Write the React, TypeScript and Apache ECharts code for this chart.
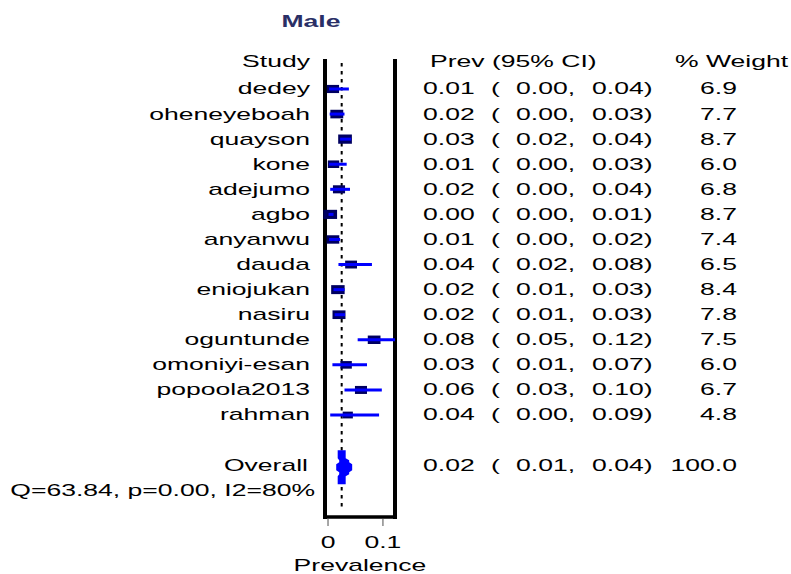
import React, { useEffect, useRef } from "react";
import * as echarts from "echarts";

// ---------- data ----------
const studies = [
  "dedey", "oheneyeboah", "quayson", "kone", "adejumo", "agbo", "anyanwu",
  "dauda", "eniojukan", "nasiru", "oguntunde", "omoniyi-esan", "popoola2013", "rahman",
];
const prev = [0.009, 0.016, 0.031, 0.010, 0.020, 0.004, 0.009, 0.042, 0.018, 0.020, 0.084, 0.033, 0.060, 0.036];
const lower = [0.002, 0.003, 0.022, 0.002, 0.004, 0.001, 0.002, 0.019, 0.010, 0.012, 0.054, 0.008, 0.030, 0.004];
const upper = [0.038, 0.030, 0.042, 0.034, 0.040, 0.010, 0.022, 0.080, 0.030, 0.031, 0.122, 0.071, 0.098, 0.093];
const weight = [6.9, 7.7, 8.7, 6.0, 6.8, 8.7, 7.4, 6.5, 8.4, 7.8, 7.5, 6.0, 6.7, 4.8];

const overallLabel = "Overall";
const overallPrev = [0.0249];
const overallLower = [0.0149];
const overallUpper = [0.044];
const overallWeight = [100.0];
const heterogeneity = "Q=63.84, p=0.00, I2=80%";

const xTicks = [0, 0.1];
const xTickLabels = ["0", "0.1"];
const titleText = "Male";
const xAxisName = "Prevalence";
const headerStudy = "Study";
const headerPrev = "Prev (95% CI)";
const headerWeight = "% Weight";

// ---------- layout ----------
const X_MIN = -0.0055;
const X_MAX = 0.122;
const Y_MIN = -1.116;
const Y_MAX = 17.066;
const OVERALL_ROW = 15;
const HET_ROW = 16;
const SX = 1.66;
const FONT = "'Liberation Sans', Arial, Helvetica, sans-serif";

const T = (text: string, x: number, y: number, align: string, extra: any = {}) => ({
  type: "text",
  x,
  y,
  scaleX: SX,
  silent: true,
  style: {
    text,
    x: 0,
    y: 0,
    fill: "#000",
    fontSize: 16,
    fontFamily: FONT,
    align,
    textAlign: align,
    verticalAlign: "middle",
    textVerticalAlign: "middle",
    ...extra,
  },
});

const f2 = (v: number) => v.toFixed(2);

const tableTexts = (p: number, l: number, u: number, w: number, y: number) => [
  T(f2(p), 423, y, "left"),
  T("(", 491, y, "left"),
  T(f2(l) + ",", 516, y, "left"),
  T(f2(u) + ")", 592, y, "left"),
  T(w.toFixed(1), 737, y, "right"),
];

export default function App() {
  const ref = useRef<HTMLDivElement>(null);

  useEffect(() => {
    if (!ref.current) return;
    const chart = echarts.init(ref.current, undefined, { renderer: "svg" });

    const studyData = studies.map((_, i) => [prev[i], i, lower[i], upper[i], weight[i]]);
    const overallData = overallPrev.map((p, i) => [p, OVERALL_ROW, overallLower[i], overallUpper[i], overallWeight[i]]);

    const option: any = {
      animation: false,
      backgroundColor: "#fff",
      grid: { left: 325, width: 70, top: 61, height: 456 },
      xAxis: {
        type: "value",
        min: X_MIN,
        max: X_MAX,
        axisLine: { show: true, onZero: false, lineStyle: { color: "#000", width: 3.5, cap: "square" } },
        axisTick: { show: false },
        axisLabel: { show: false },
        splitLine: { show: false },
      },
      yAxis: [
        {
          type: "value",
          inverse: true,
          min: Y_MIN,
          max: Y_MAX,
          position: "left",
          axisLine: { show: true, onZero: false, lineStyle: { color: "#000", width: 4, cap: "square" } },
          axisTick: { show: false },
          axisLabel: { show: false },
          splitLine: { show: false },
        },
        {
          type: "value",
          inverse: true,
          min: Y_MIN,
          max: Y_MAX,
          position: "right",
          axisLine: { show: true, onZero: false, lineStyle: { color: "#000", width: 4, cap: "square" } },
          axisTick: { show: false },
          axisLabel: { show: false },
          splitLine: { show: false },
        },
      ],
      graphic: [
        T(titleText, 311, 22, "center", { fontWeight: "bold", fill: "#2a2f66", fontSize: 16 }),
        T(headerStudy, 310, 62, "right"),
        T(headerPrev, 430, 62, "left"),
        T(headerWeight, 675, 62, "left"),
      ],
      series: [
        {
          // dashed reference line at overall estimate
          type: "custom",
          clip: false,
          z: 1,
          data: overallPrev.map((p) => [p]),
          renderItem: (params: any, api: any) => {
            const top = api.coord([api.value(0), Y_MIN]);
            const bot = api.coord([api.value(0), Y_MAX]);
            return {
              type: "line",
              shape: { x1: top[0], y1: top[1] + 2, x2: bot[0], y2: bot[1] - 7 },
              style: { stroke: "#000", lineWidth: 2, lineDash: [3.5, 4.5] },
            };
          },
        },
        {
          // x-axis ticks, tick labels and axis name
          type: "custom",
          clip: false,
          z: 2,
          data: xTicks.map((t) => [t]),
          renderItem: (params: any, api: any) => {
            const b = api.coord([api.value(0), Y_MAX]);
            const children: any[] = [
              {
                type: "line",
                shape: { x1: b[0], y1: b[1] + 2, x2: b[0], y2: b[1] + 9 },
                style: { stroke: "#8a8a8a", lineWidth: 1.5 },
              },
              T(xTickLabels[params.dataIndex], b[0], b[1] + 26, "center"),
            ];
            if (params.dataIndex === 0) {
              const l = api.coord([X_MIN, Y_MAX]);
              const r = api.coord([X_MAX, Y_MAX]);
              children.push(T(xAxisName, (l[0] + r[0]) / 2, b[1] + 49, "center"));
            }
            return { type: "group", children };
          },
        },
        {
          // individual studies
          type: "custom",
          clip: false,
          z: 3,
          data: studyData,
          renderItem: (params: any, api: any) => {
            const i = api.value(1);
            const p = api.coord([api.value(0), i]);
            const l = api.coord([api.value(2), i]);
            const u = api.coord([api.value(3), i]);
            const w = api.value(4);
            const h = 3.1 * Math.sqrt(w);
            const bw = h * 1.5;
            const y = p[1];
            return {
              type: "group",
              children: [
                {
                  type: "rect",
                  shape: { x: p[0] - bw / 2, y: y - h / 2, width: bw, height: h },
                  style: { fill: "#000060" },
                },
                {
                  type: "line",
                  shape: { x1: l[0], y1: y, x2: u[0], y2: y },
                  style: { stroke: "#0000ff", lineWidth: 3 },
                },
                T(studies[params.dataIndex], 310, y, "right"),
                ...tableTexts(api.value(0), api.value(2), api.value(3), w, y),
              ],
            };
          },
        },
        {
          // overall estimate
          type: "custom",
          clip: false,
          z: 4,
          data: overallData,
          renderItem: (params: any, api: any) => {
            const i = api.value(1);
            const p = api.coord([api.value(0), i]);
            const l = api.coord([api.value(2), i]);
            const u = api.coord([api.value(3), i]);
            const cx = p[0];
            const cy = p[1] + 2;
            const xl = l[0];
            const xr = u[0];
            const het = api.coord([api.value(0), HET_ROW]);
            const pts = [
              [cx - 4, cy - 17], [cx + 4, cy - 17], [cx + 4, cy - 9], [xr - 3, cy - 7],
              [xr - 3, cy - 5], [xr, cy - 3], [xr, cy + 3], [xr - 3, cy + 5],
              [xr - 3, cy + 7], [cx + 4, cy + 9], [cx + 4, cy + 17], [cx - 4, cy + 17],
              [cx - 4, cy + 9], [xl + 3, cy + 7], [xl + 3, cy + 5], [xl, cy + 3],
              [xl, cy - 3], [xl + 3, cy - 5], [xl + 3, cy - 7], [cx - 4, cy - 9],
            ];
            return {
              type: "group",
              children: [
                { type: "polygon", shape: { points: pts }, style: { fill: "#0000ff" } },
                T(overallLabel, 308, p[1], "right"),
                T(heterogeneity, 315, het[1], "right"),
                ...tableTexts(api.value(0), api.value(2), api.value(3), api.value(4), p[1]),
              ],
            };
          },
        },
      ],
    };

    chart.setOption(option);
    return () => chart.dispose();
  }, []);

  return (
    <div
      ref={ref}
      style={{ position: "fixed", left: 0, top: 0, width: 791, height: 574, background: "#fff" }}
    />
  );
}
